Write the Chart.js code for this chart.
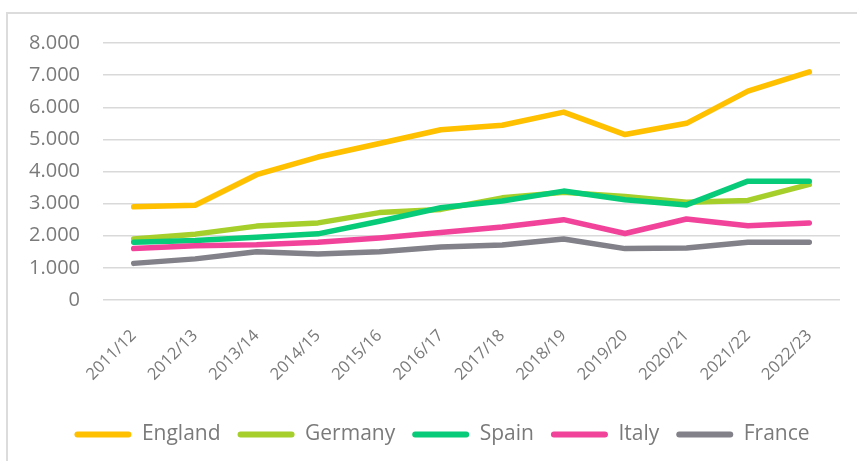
<!DOCTYPE html>
<html>
<head>
<meta charset="utf-8">
<script src="https://cdn.jsdelivr.net/npm/chart.js@4/dist/chart.umd.min.js"></script>
<style>
  html, body { margin: 0; padding: 0; background: #fff; overflow: hidden; }
  #wrap { position: relative; width: 857px; height: 461px; }
  #frame { position: absolute; left: 6px; top: 12px; width: 900px; height: 500px; border: 2px solid #dcdcdc; box-sizing: border-box; }
  canvas { position: absolute; left: 0; top: 0; }
</style>
</head>
<body>
<div id="wrap">
  <div id="frame"></div>
  <canvas id="c" width="857" height="461"></canvas>
</div>
<script>
const seasons = ["2011/12","2012/13","2013/14","2014/15","2015/16","2016/17","2017/18","2018/19","2019/20","2020/21","2021/22","2022/23"];
const england = [2900, 2950, 3900, 4450, 4870, 5300, 5440, 5850, 5150, 5500, 6500, 7100];
const germany = [1900, 2050, 2300, 2400, 2720, 2820, 3180, 3350, 3220, 3040, 3100, 3600];
const spain   = [1800, 1850, 1950, 2060, 2450, 2870, 3080, 3390, 3120, 2960, 3700, 3700];
const italy   = [1600, 1690, 1720, 1800, 1930, 2100, 2270, 2500, 2070, 2520, 2310, 2400];
const france  = [1140, 1280, 1500, 1430, 1500, 1650, 1710, 1900, 1600, 1620, 1800, 1800];
const seriesNames = ["England", "Germany", "Spain", "Italy", "France"];
const seriesData = [england, germany, spain, italy, france];
const seriesColors = ["#FFC000", "#A6CF2B", "#07CB78", "#F2439A", "#828088"];
const yTicks = [0, 1000, 2000, 3000, 4000, 5000, 6000, 7000, 8000];

const FONT = "'Open Sans', 'Noto Sans', sans-serif";
const GREY = "#7a7a7a";

const datasets = seriesNames.map((name, i) => ({
  label: name,
  data: seriesData[i],
  borderColor: seriesColors[i],
  backgroundColor: seriesColors[i],
  borderWidth: 5.5,
  pointRadius: 0,
  pointHoverRadius: 0,
  tension: 0,
  fill: false,
  borderCapStyle: 'round',
  borderJoinStyle: 'round',
  order: seriesNames.length - i
}));

const fmt = v => String(v).replace(/\B(?=(\d{3})+(?!\d))/g, '.');

// shift the centred legend to the right, as in the reference
const legendShift = {
  id: 'legendShift',
  afterLayout(chart) {
    if (chart.legend) { chart.legend.left += 44; }
  }
};

new Chart(document.getElementById('c'), {
  type: 'line',
  data: { labels: seasons, datasets },
  plugins: [legendShift],
  options: {
    responsive: false,
    animation: false,
    devicePixelRatio: 1,
    layout: { padding: { top: 43, right: 17, left: 0, bottom: 9 } },
    plugins: {
      tooltip: { enabled: false },
      legend: {
        position: 'bottom',
        maxHeight: 45,
        labels: {
          color: GREY,
          font: { family: FONT, size: 21 },
          boxWidth: 57,
          boxHeight: 6,
          useBorderRadius: true,
          borderRadius: 3,
          padding: 17,
          sort: (a, b) => a.datasetIndex - b.datasetIndex,
          generateLabels: (chart) => {
            const items = Chart.defaults.plugins.legend.labels.generateLabels(chart);
            items.forEach(it => { it.lineWidth = 0; it.strokeStyle = 'rgba(0,0,0,0)'; });
            return items;
          }
        }
      }
    },
    scales: {
      x: {
        offset: true,
        grid: { display: false, drawTicks: false },
        border: { display: false },
        ticks: {
          color: GREY,
          font: { family: FONT, size: 16.5 },
          minRotation: 45,
          maxRotation: 45,
          autoSkip: false,
          padding: 26
        },
        afterFit: (s) => { s.height = 107; }
      },
      y: {
        min: 0,
        max: 8000,
        afterBuildTicks: (s) => { s.ticks = yTicks.map(v => ({ value: v })); },
        grid: { color: '#d9d9d9', lineWidth: 1.5, drawTicks: false },
        border: { display: false },
        ticks: {
          color: GREY,
          font: { family: FONT, size: 20 },
          padding: 23,
          callback: (v) => fmt(v)
        },
        afterFit: (s) => { s.width = 103; }
      }
    }
  }
});
</script>
</body>
</html>
